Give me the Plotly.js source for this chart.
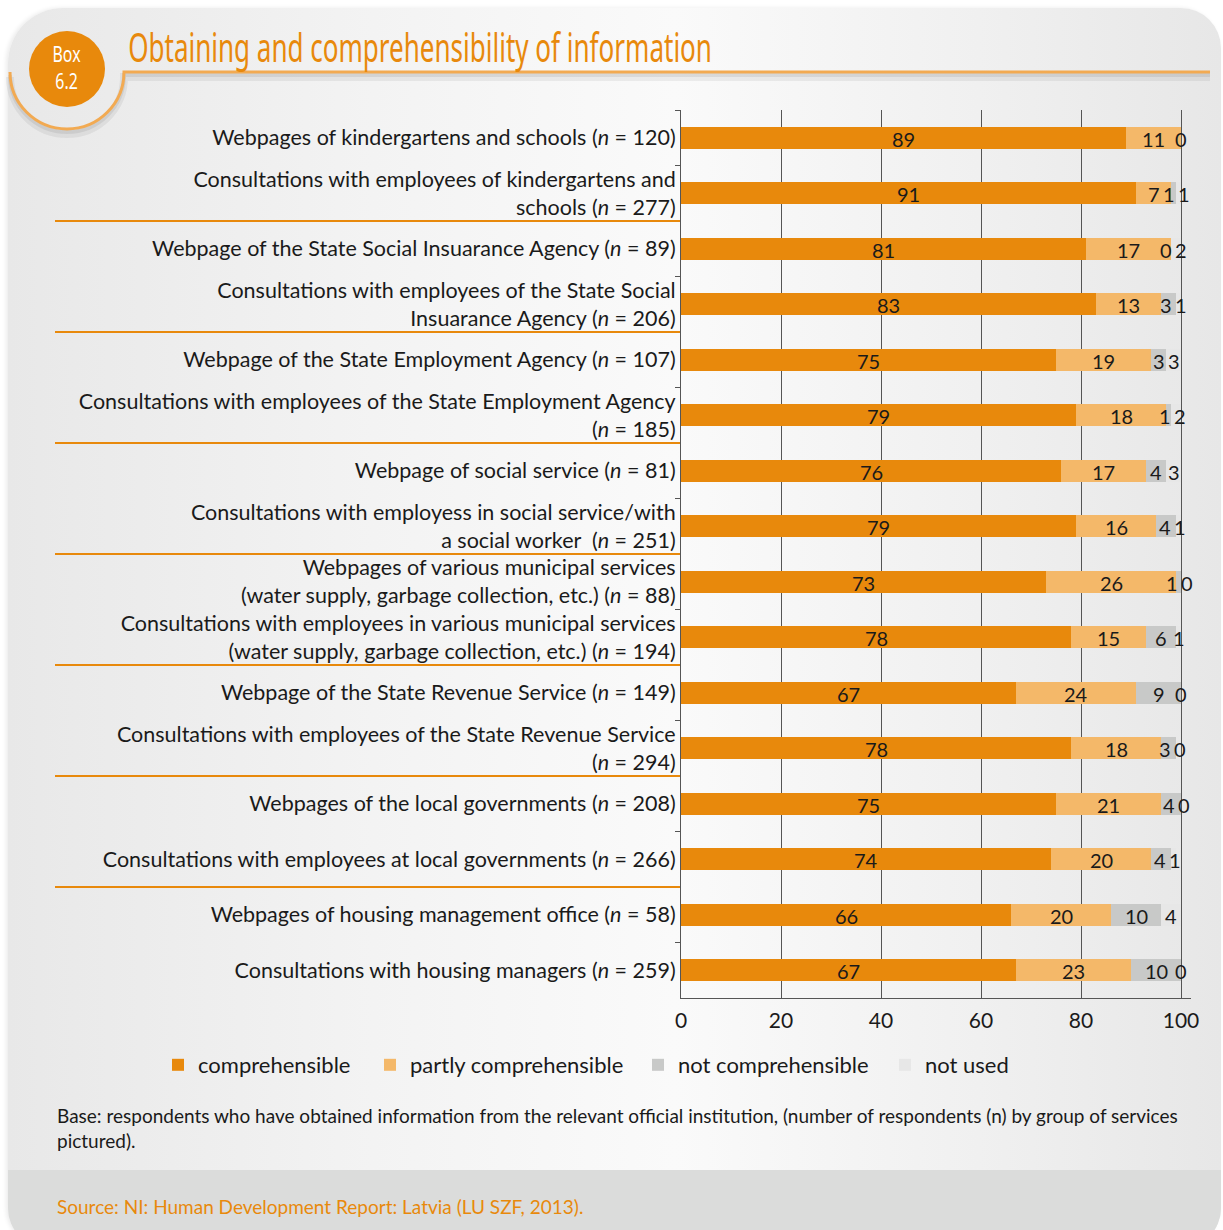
<!DOCTYPE html>
<html>
<head>
<meta charset="utf-8">
<script src="https://cdn.plot.ly/plotly-3.0.1.min.js"></script>
<style>
  html, body { margin: 0; padding: 0; background: #ffffff; }
  #wrap { position: relative; width: 1223px; height: 1230px; overflow: hidden; background: #ffffff; }
  #panel { position: absolute; left: 8px; top: 8px; width: 1213px; height: 1240px;
           border-radius: 55px 40px 40px 40px;
           background: linear-gradient(to right, #e8e8e8 0%, #f3f3f3 30%, #fafafa 55%, #f0f0f0 80%, #e7e7e7 100%);
           box-shadow: -2px 0 4px rgba(0,0,0,0.08); overflow: hidden; }
  #band { position: absolute; left: 0; top: 1162px; width: 100%; height: 80px; background: #dbdcdb; }
  #chart { position: absolute; left: 0; top: 0; width: 1223px; height: 1230px; }
</style>
</head>
<body>
<div id="wrap">
  <div id="panel"><div id="band"></div></div>
  <div id="chart"></div>
</div>
<script>
const categories = [
  "Webpages of kindergartens and schools (<i>n</i> = 120)",
  "Consultations with employees of kindergartens and<br>schools (<i>n</i> = 277)",
  "Webpage of the State Social Insuarance Agency (<i>n</i> = 89)",
  "Consultations with employees of the State Social<br>Insuarance Agency (<i>n</i> = 206)",
  "Webpage of the State Employment Agency (<i>n</i> = 107)",
  "Consultations with employees of the State Employment Agency<br>(<i>n</i> = 185)",
  "Webpage of social service (<i>n</i> = 81)",
  "Consultations with employess in social service/with<br>a social worker\u00a0 (<i>n</i> = 251)",
  "Webpages of various municipal services<br>(water supply, garbage collection, etc.) (<i>n</i> = 88)",
  "Consultations with employees in various municipal services<br>(water supply, garbage collection, etc.) (<i>n</i> = 194)",
  "Webpage of the State Revenue Service (<i>n</i> = 149)",
  "Consultations with employees of the State Revenue Service<br>(<i>n</i> = 294)",
  "Webpages of the local governments (<i>n</i> = 208)",
  "Consultations with employees at local governments (<i>n</i> = 266)",
  "Webpages of housing management office (<i>n</i> = 58)",
  "Consultations with housing managers (<i>n</i> = 259)"
];
const comprehensible       = [89, 91, 81, 83, 75, 79, 76, 79, 73, 78, 67, 78, 75, 74, 66, 67];
const partlyComprehensible = [11,  7, 17, 13, 19, 18, 17, 16, 26, 15, 24, 18, 21, 20, 20, 23];
const notComprehensible    = [ 0,  1,  0,  3,  3,  1,  4,  4,  1,  6,  9,  3,  4,  4, 10, 10];
const notUsed              = [null, 1, 2,  1,  3,  2,  3,  1,  0,  1,  0,  0,  0,  1,  4,  0];
const seriesNames = ["comprehensible", "partly comprehensible", "not comprehensible", "not used"];
const xTicks = [0, 20, 40, 60, 80, 100];
const titleText = "Obtaining and comprehensibility of information";
const boxText = "Box<br>6.2";
const noteText = "Base: respondents who have obtained information from the relevant official institution, (number of respondents (n) by group of services<br>pictured).";
const sourceText = "Source: NI: Human Development Report: Latvia (LU SZF, 2013).";

const colors = ["#e8890c", "#f4b869", "#c8c9c8", "#e7e7e7"];
const series = [comprehensible, partlyComprehensible, notComprehensible, notUsed];
const FONT = "Lato, 'Open Sans', sans-serif";

// plot geometry (pixels)
const L = 681, R = 32, T = 110, B = 232, W = 1223, H = 1230;
const PW = W - L - R, PH = H - T - B;
const px = v => (v - L) / PW;
const py = v => (H - B - v) / PH;

const legendIds = ["legend", "legend2", "legend3", "legend4"];
const legendX = [158, 370, 638, 885];

const traces = series.map((vals, i) => ({
  type: "bar", orientation: "h", name: seriesNames[i],
  y: categories, x: vals, width: 0.4,
  marker: { color: colors[i], line: { width: 0 } },
  legend: legendIds[i],
  hoverinfo: "x+name"
}));

// value labels
const annotations = [];
const unitPx = PW / 102;
categories.forEach((cat, j) => {
  let start = 0;
  const centers = [];
  series.forEach((vals) => {
    const v = vals[j];
    if (v === null || v === undefined) { centers.push(null); return; }
    centers.push(start + v / 2);
    start += v;
  });
  const shifts = [0, 0, 0, 0];
  if (centers[2] !== null && centers[3] !== null) {
    const gap = (centers[3] - centers[2]) * unitPx;
    const minGap = 15;
    if (gap < minGap) { shifts[2] = -(minGap - gap) / 2; shifts[3] = (minGap - gap) / 2; }
  }
  series.forEach((vals, i) => {
    const v = vals[j];
    if (v === null || v === undefined) return;
    annotations.push({
      x: centers[i], y: cat, xref: "x", yref: "y", text: String(v), showarrow: false,
      xshift: shifts[i], yshift: -1,
      font: { family: FONT, size: 20, color: "#1a1a1a" }
    });
  });
});

// title, box label, notes
annotations.push({ xref: "paper", yref: "paper", x: px(126), y: py(47), xanchor: "left", yanchor: "middle",
  text: titleText, showarrow: false, font: { family: "'Noto Sans', sans-serif", size: 40, color: "#e8890c" } });
annotations.push({ xref: "paper", yref: "paper", x: px(66), y: py(68), xanchor: "center", yanchor: "middle",
  text: boxText, showarrow: false, font: { family: "'Noto Sans', sans-serif", size: 21, color: "#ffffff" } });
annotations.push({ xref: "paper", yref: "paper", x: px(55), y: py(1128), xanchor: "left", yanchor: "middle", align: "left",
  text: noteText, showarrow: false, font: { family: FONT, size: 19, color: "#1a1a1a" } });
annotations.push({ xref: "paper", yref: "paper", x: px(55), y: py(1206), xanchor: "left", yanchor: "middle",
  text: sourceText, showarrow: false, font: { family: FONT, size: 19, color: "#e8890c" } });

// shapes: separators between groups, decoration
const shapes = [];
[1.5, 3.5, 5.5, 7.5, 9.5, 11.5, 13.5].forEach(b => {
  shapes.push({ type: "line", xref: "paper", yref: "y", x0: px(55), x1: px(680), y0: b, y1: b,
    line: { color: "#e8890c", width: 2 } });
});
function arcPath(cx, cy, r, dy, xEnd) {
  const k = 0.5523 * r;
  const P = (x, y) => `${px(x)} ${py(y + dy)}`;
  return `M ${P(cx - r, cy)} C ${P(cx - r, cy + k)}, ${P(cx - k, cy + r)}, ${P(cx, cy + r)} ` +
         `C ${P(cx + k, cy + r)}, ${P(cx + r, cy + k)}, ${P(cx + r, cy)} L ${P(xEnd, cy)}`;
}
shapes.push({ type: "path", xref: "paper", yref: "paper", path: arcPath(67, 72, 57, 5, 1210), line: { color: "rgba(0,0,0,0.06)", width: 8 } });
shapes.push({ type: "path", xref: "paper", yref: "paper", path: arcPath(67, 72, 57, 3, 1210), line: { color: "rgba(0,0,0,0.07)", width: 4 } });
shapes.push({ type: "path", xref: "paper", yref: "paper", path: arcPath(67, 72, 57, 0, 1210), line: { color: "#f2aa52", width: 3 } });
shapes.push({ type: "circle", xref: "paper", yref: "paper", x0: px(29), x1: px(105), y0: py(107), y1: py(31),
  fillcolor: "#e8890c", line: { width: 0 } });

const legendBase = { orientation: "h", y: py(1065), xanchor: "left", yanchor: "middle",
  font: { family: FONT, size: 22, color: "#1a1a1a" }, bgcolor: "rgba(0,0,0,0)" };

const layout = {
  width: W, height: H,
  margin: { l: L, r: R, t: T, b: B, pad: 0 },
  paper_bgcolor: "rgba(0,0,0,0)", plot_bgcolor: "rgba(0,0,0,0)",
  barmode: "stack", bargap: 0.6,
  showlegend: true,
  legend:  Object.assign({}, legendBase, { x: px(legendX[0]) }),
  legend2: Object.assign({}, legendBase, { x: px(legendX[1]) }),
  legend3: Object.assign({}, legendBase, { x: px(legendX[2]) }),
  legend4: Object.assign({}, legendBase, { x: px(legendX[3]) }),
  xaxis: { range: [0, 102], tickvals: xTicks, ticktext: xTicks.map(String), showgrid: true,
    gridcolor: "#555555", gridwidth: 1, zeroline: false, showline: true, linecolor: "#555555", linewidth: 1,
    ticks: "", ticklabelstandoff: 4, tickfont: { family: FONT, size: 21, color: "#1a1a1a" }, fixedrange: true },
  yaxis: { type: "category", autorange: "reversed", showline: true, linecolor: "#555555", linewidth: 1,
    ticks: "outside", tickson: "boundaries", ticklen: 5, tickcolor: "#555555", showgrid: false,
    tickfont: { family: FONT, size: 21.5, color: "#1a1a1a" }, fixedrange: true },
  annotations: annotations,
  shapes: shapes,
  font: { family: FONT }
};

Plotly.newPlot("chart", traces, layout, { displayModeBar: false, staticPlot: true }).then(() => {
  // condense the title and box label horizontally (the original uses a condensed typeface)
  document.querySelectorAll("#chart .annotation-text").forEach(el => {
    const t = el.textContent;
    let target = null, origin = null;
    if (t === titleText) { target = 584; origin = "left center"; }
    else if (t.replace(/\s/g, "") === "Box6.2") { target = 28; origin = "center center"; }
    if (target) {
      const w = el.getBBox().width;
      el.style.transformBox = "fill-box";
      el.style.transformOrigin = origin;
      el.style.transform = `scaleX(${(target / w).toFixed(4)})`;
    }
  });
});
</script>
</body>
</html>
